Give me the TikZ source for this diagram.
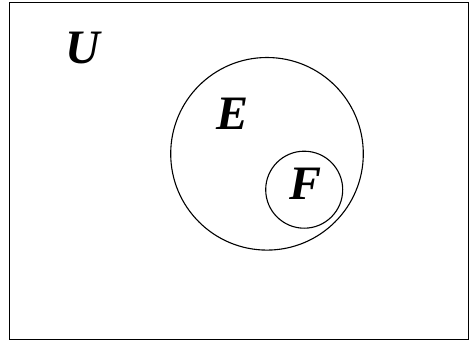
\documentclass[tikz,border=0pt]{standalone}
\usepackage{fontspec}
\newfontfamily\labfont{Liberation Serif}[UprightFont={* Bold Italic}]
\begin{document}
\begin{tikzpicture}[x=1pt,y=1pt,
  setlabel/.style={inner sep=0pt, font=\fontsize{48}{48}\labfont},
  setline/.style={draw=black, line width=1.1pt}]
\useasboundingbox (0,0) rectangle (469,341);
\node[setline, fill=none, inner sep=0pt, minimum width=459pt, minimum height=337pt, anchor=south west] (U) at (8.5,1) {};
\node[setline, circle, inner sep=0pt, minimum size=192.6pt] (E) at (267,187.2) {};
\node[setline, circle, inner sep=0pt, minimum size=77pt] (F) at (304.2,151.3) {};
\node[setlabel] (Ul) at (83,293) {U};
\node[setlabel] (El) at (233,227) {E};
\node[setlabel] (Fl) at (306,157) {F};
\end{tikzpicture}
\end{document}
